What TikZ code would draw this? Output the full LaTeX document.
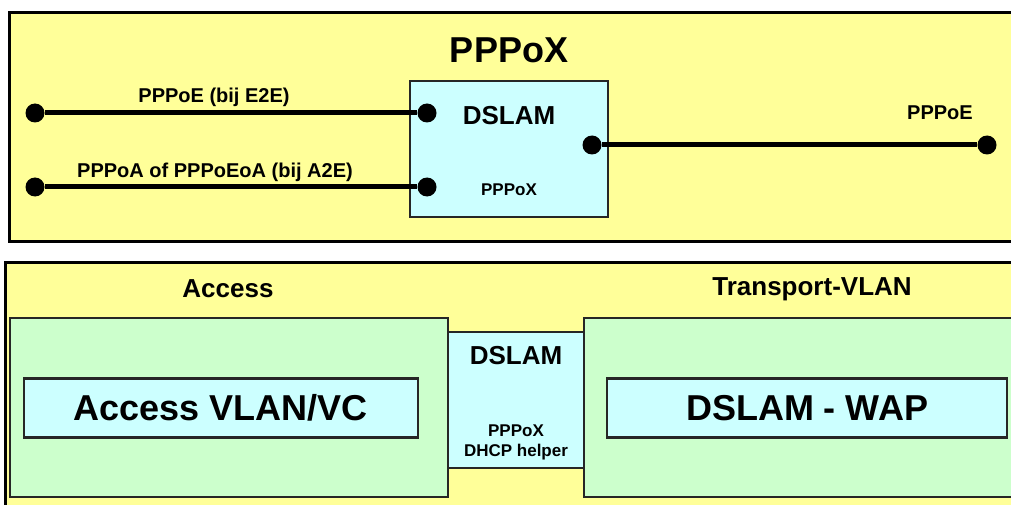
\documentclass[tikz,border=0pt]{standalone}
\usepackage{fontspec}
\setmainfont{Liberation Sans}
\definecolor{panelyellow}{HTML}{FFFF99}
\definecolor{boxcyan}{HTML}{CCFFFF}
\definecolor{boxgreen}{HTML}{CCFFCC}
\tikzset{
    panel/.style={draw=black, line width=3pt, fill=panelyellow},
    cyanbox/.style={draw=black!85, line width=2.5pt, fill=boxcyan},
    greenbox/.style={draw=black!85, line width=2.2pt, fill=boxgreen},
    dot/.style={circle, fill=black, inner sep=0pt, minimum size=19pt},
    wire/.style={line width=5pt},
    huge lbl/.style={font=\bfseries\fontsize{36}{40}\selectfont},
    big lbl/.style={font=\bfseries\fontsize{26}{30}\selectfont},
    mid lbl/.style={font=\bfseries\fontsize{20}{24}\selectfont},
    small lbl/.style={font=\bfseries\fontsize{17}{20}\selectfont},
}
\begin{document}
\begin{tikzpicture}[x=1pt, y=-1pt]
    \useasboundingbox (0,0) rectangle (1011,505);
    \clip (0,0) rectangle (1011,505);
    \fill[white] (0,0) rectangle (1011,505);

    % top panel: PPPoX
    \begin{scope}
        \draw[panel] (9,13) rectangle (1020,241);
        \node[huge lbl] (title) at (509,50) {PPPoX};
        \node[cyanbox, minimum width=198pt, minimum height=136pt] (dslamtop) at (509,149) {};
        \node[big lbl] (dslamlbl) at (509,116) {DSLAM};
        \node[small lbl] (pppoxlbl) at (509,190) {PPPoX};

        \node[dot] (e2eout) at (35,113) {};
        \node[dot] (e2ein) at (427,113) {};
        \node[dot] (a2eout) at (35,187) {};
        \node[dot] (a2ein) at (427,187) {};
        \node[dot] (netin) at (592,145) {};
        \node[dot] (netout) at (987,145) {};
        \draw[wire] (e2eout) -- (e2ein);
        \draw[wire] (a2eout) -- (a2ein);
        \draw[wire] (netin) -- (netout);

        \node[mid lbl] (e2elbl) at (214,97) {PPPoE (bij E2E)};
        \node[mid lbl] (a2elbl) at (215,172) {PPPoA of PPPoEoA (bij A2E)};
        \node[mid lbl] (pppoelbl) at (940,113) {PPPoE};
    \end{scope}

    % bottom panel: Access / Transport-VLAN
    \begin{scope}
        \draw[panel] (5,262) rectangle (1020,515);
        \node[big lbl] (accesslbl) at (228,289) {Access};
        \node[big lbl] (transportlbl) at (812,289) {Transport-VLAN};

        \draw[greenbox] (10,318) rectangle (448,497);
        \draw[greenbox] (584,318) rectangle (1020,497);
        \node[cyanbox, minimum width=136pt, minimum height=136pt] (dslambot) at (516,400) {};
        \node[big lbl] (dslambotlbl) at (516,356) {DSLAM};
        \node[small lbl, align=center] (helperlbl) at (516,442) {PPPoX\\DHCP helper};

        \node[cyanbox, minimum width=394pt, minimum height=59pt, huge lbl] (accessvlan) at (221,408) {Access VLAN/VC};
        \node[cyanbox, minimum width=400pt, minimum height=59pt, huge lbl] (dslamwap) at (807,408) {DSLAM - WAP};
    \end{scope}
\end{tikzpicture}
\end{document}
